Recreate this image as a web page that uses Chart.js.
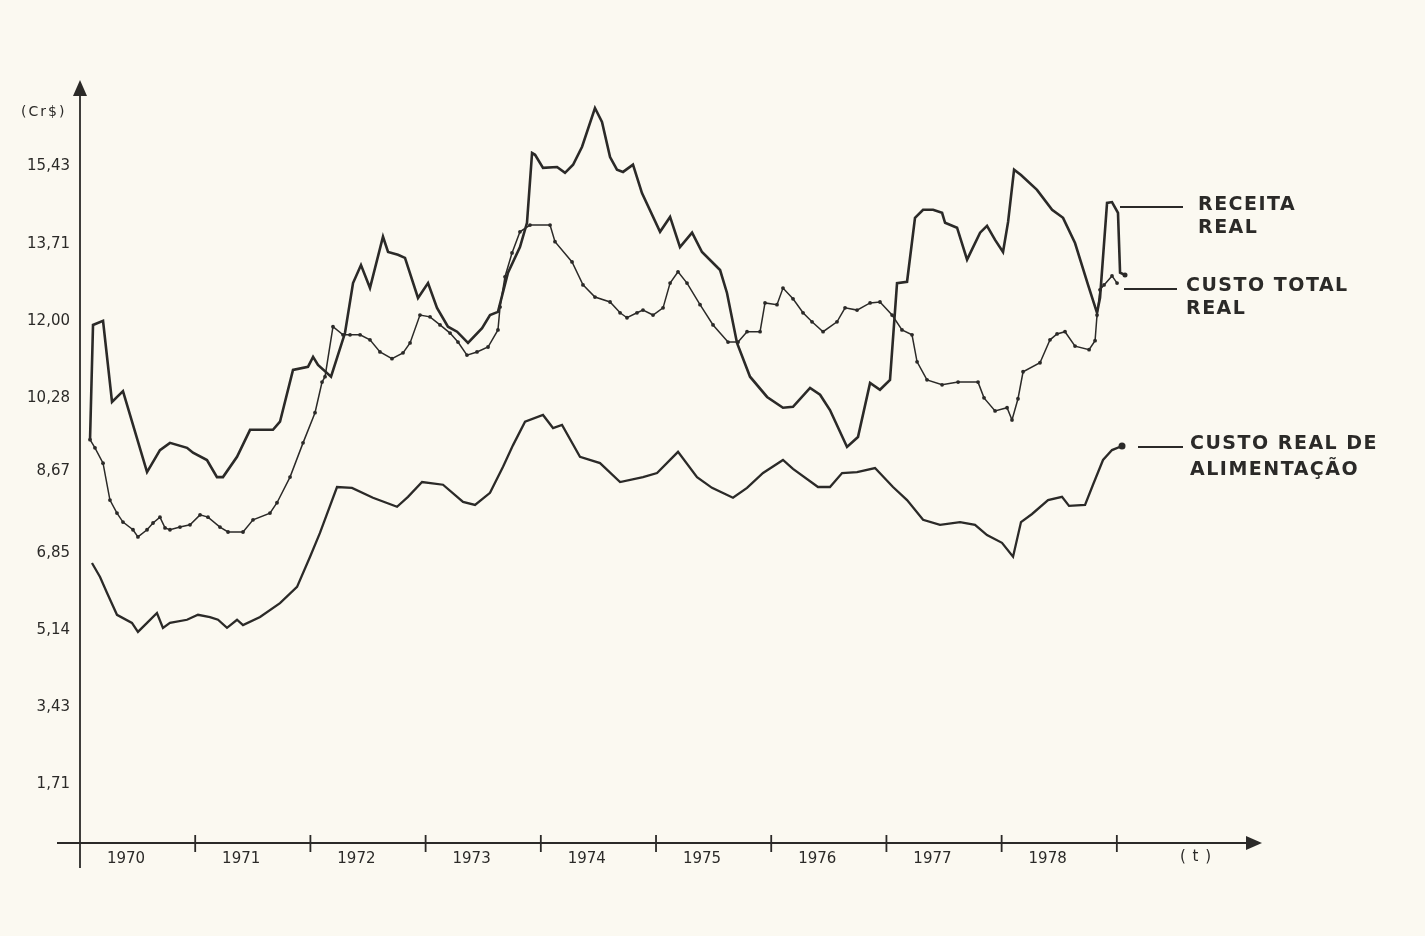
<!DOCTYPE html>
<html lang="pt">
<head>
<meta charset="utf-8">
<title>Receita real e custos reais, 1970-1978</title>
<script src="https://cdn.jsdelivr.net/npm/chart.js@4.4.1/dist/chart.umd.min.js"></script>
<style>
  html, body { margin: 0; padding: 0; background: #fbf9f1; }
  #wrap { width: 1425px; height: 936px; }
</style>
</head>
<body>
<div id="wrap"><canvas id="realChart" width="1425" height="936"></canvas></div>
<script>
const years = ["1970", "1971", "1972", "1973", "1974", "1975", "1976", "1977", "1978"];
const yearStarts = [1970, 1971, 1972, 1973, 1974, 1975, 1976, 1977, 1978];
const yTicks = [1.71, 3.43, 5.14, 6.85, 8.67, 10.28, 12.00, 13.71, 15.43];

const receitaT = [1970.087, 1970.113, 1970.200, 1970.278, 1970.373, 1970.582, 1970.694, 1970.781, 1970.929, 1970.981,
  1971.102, 1971.189, 1971.241, 1971.363, 1971.476, 1971.675, 1971.736, 1971.849, 1971.979, 1972.023,
  1972.066, 1972.179, 1972.300, 1972.370, 1972.439, 1972.517, 1972.630, 1972.674, 1972.760, 1972.821,
  1972.934, 1973.021, 1973.099, 1973.194, 1973.273, 1973.368, 1973.490, 1973.559, 1973.628, 1973.715,
  1973.819, 1973.880, 1973.924, 1973.950, 1974.019, 1974.141, 1974.210, 1974.280, 1974.358, 1974.470,
  1974.531, 1974.601, 1974.661, 1974.714, 1974.800, 1974.878, 1975.035, 1975.122, 1975.208, 1975.313,
  1975.399, 1975.556, 1975.616, 1975.703, 1975.816, 1975.964, 1976.102, 1976.189, 1976.337, 1976.424,
  1976.510, 1976.658, 1976.753, 1976.858, 1976.944, 1977.031, 1977.092, 1977.179, 1977.248, 1977.318,
  1977.405, 1977.483, 1977.509, 1977.613, 1977.700, 1977.813, 1977.873, 1977.943, 1978.012, 1978.056,
  1978.108, 1978.168, 1978.307, 1978.438, 1978.533, 1978.637, 1978.750, 1978.828, 1978.854, 1978.915,
  1978.958, 1979.010, 1979.028, 1979.071];
const receitaV = [9.36, 11.91, 12.00, 10.20, 10.44, 8.64, 9.13, 9.29, 9.18, 9.07,
  8.91, 8.53, 8.53, 8.98, 9.58, 9.58, 9.76, 10.91, 10.98, 11.20,
  11.02, 10.76, 11.73, 12.84, 13.24, 12.73, 13.87, 13.53, 13.47, 13.40,
  12.51, 12.84, 12.29, 11.87, 11.76, 11.51, 11.84, 12.13, 12.20, 13.07,
  13.64, 14.18, 15.73, 15.69, 15.40, 15.42, 15.29, 15.47, 15.87, 16.73,
  16.42, 15.64, 15.36, 15.31, 15.47, 14.84, 13.98, 14.31, 13.64, 13.96,
  13.53, 13.13, 12.62, 11.51, 10.76, 10.31, 10.07, 10.09, 10.51, 10.36,
  10.02, 9.20, 9.42, 10.62, 10.47, 10.69, 12.84, 12.87, 14.29, 14.47,
  14.47, 14.40, 14.18, 14.07, 13.36, 13.96, 14.11, 13.80, 13.53, 14.20,
  15.36, 15.24, 14.91, 14.47, 14.29, 13.73, 12.80, 12.18, 12.51, 14.62,
  14.64, 14.40, 13.07, 13.02];

const custoTotalT = [1970.087, 1970.130, 1970.200, 1970.260, 1970.321, 1970.373, 1970.460, 1970.503, 1970.582, 1970.634,
  1970.694, 1970.738, 1970.781, 1970.868, 1970.955, 1971.042, 1971.111, 1971.215, 1971.285, 1971.415,
  1971.502, 1971.649, 1971.710, 1971.823, 1971.936, 1972.040, 1972.101, 1972.127, 1972.196, 1972.283,
  1972.344, 1972.431, 1972.517, 1972.604, 1972.708, 1972.804, 1972.865, 1972.951, 1973.038, 1973.125,
  1973.212, 1973.281, 1973.359, 1973.446, 1973.542, 1973.628, 1973.646, 1973.689, 1973.750, 1973.819,
  1973.906, 1974.080, 1974.123, 1974.271, 1974.366, 1974.470, 1974.601, 1974.688, 1974.748, 1974.835,
  1974.887, 1974.974, 1975.061, 1975.122, 1975.191, 1975.269, 1975.382, 1975.495, 1975.625, 1975.712,
  1975.790, 1975.903, 1975.946, 1976.050, 1976.102, 1976.189, 1976.276, 1976.354, 1976.450, 1976.571,
  1976.641, 1976.745, 1976.858, 1976.944, 1977.049, 1977.135, 1977.222, 1977.266, 1977.352, 1977.483,
  1977.622, 1977.795, 1977.847, 1977.943, 1978.047, 1978.090, 1978.142, 1978.186, 1978.333, 1978.420,
  1978.481, 1978.550, 1978.637, 1978.759, 1978.811, 1978.828, 1978.854, 1978.889, 1978.958, 1979.002];
const custoTotalV = [9.36, 9.18, 8.84, 8.02, 7.73, 7.53, 7.36, 7.20, 7.36, 7.51,
  7.64, 7.40, 7.36, 7.42, 7.47, 7.69, 7.64, 7.42, 7.31, 7.31,
  7.58, 7.73, 7.96, 8.53, 9.29, 9.96, 10.64, 10.76, 11.87, 11.69,
  11.69, 11.69, 11.58, 11.31, 11.16, 11.29, 11.51, 12.13, 12.09, 11.91,
  11.73, 11.53, 11.24, 11.31, 11.42, 11.80, 12.31, 12.98, 13.51, 13.98,
  14.13, 14.13, 13.76, 13.31, 12.80, 12.53, 12.42, 12.18, 12.07, 12.18,
  12.24, 12.13, 12.29, 12.84, 13.09, 12.84, 12.36, 11.91, 11.53, 11.53,
  11.76, 11.76, 12.40, 12.36, 12.73, 12.49, 12.18, 11.98, 11.76, 11.98,
  12.29, 12.24, 12.40, 12.42, 12.13, 11.80, 11.69, 11.09, 10.69, 10.58,
  10.64, 10.64, 10.29, 10.00, 10.07, 9.80, 10.27, 10.87, 11.07, 11.58,
  11.71, 11.76, 11.44, 11.36, 11.56, 12.13, 12.69, 12.80, 13.00, 12.84];

const alimentacaoT = [1970.104, 1970.174, 1970.234, 1970.321, 1970.451, 1970.503, 1970.582, 1970.668, 1970.720, 1970.781,
  1970.929, 1971.024, 1971.128, 1971.198, 1971.276, 1971.363, 1971.415, 1971.563, 1971.736, 1971.884,
  1971.997, 1972.083, 1972.231, 1972.361, 1972.543, 1972.752, 1972.847, 1972.969, 1973.151, 1973.325,
  1973.429, 1973.559, 1973.672, 1973.759, 1973.863, 1974.019, 1974.106, 1974.184, 1974.340, 1974.514,
  1974.688, 1974.887, 1975.009, 1975.191, 1975.356, 1975.486, 1975.668, 1975.790, 1975.929, 1976.102,
  1976.189, 1976.406, 1976.510, 1976.615, 1976.745, 1976.901, 1977.057, 1977.179, 1977.318, 1977.465,
  1977.639, 1977.769, 1977.873, 1978.003, 1978.099, 1978.168, 1978.264, 1978.403, 1978.524, 1978.585,
  1978.724, 1978.793, 1978.880, 1978.958, 1979.045];
const alimentacaoV = [6.62, 6.31, 5.96, 5.47, 5.29, 5.09, 5.29, 5.51, 5.18, 5.29,
  5.36, 5.47, 5.42, 5.36, 5.18, 5.36, 5.24, 5.42, 5.73, 6.09,
  6.76, 7.29, 8.31, 8.29, 8.07, 7.87, 8.09, 8.42, 8.36, 7.98,
  7.91, 8.18, 8.76, 9.24, 9.76, 9.91, 9.62, 9.69, 8.98, 8.84,
  8.42, 8.53, 8.62, 9.09, 8.53, 8.29, 8.07, 8.29, 8.62, 8.91,
  8.71, 8.31, 8.31, 8.62, 8.64, 8.73, 8.31, 8.02, 7.58, 7.47,
  7.53, 7.47, 7.24, 7.07, 6.76, 7.53, 7.71, 8.02, 8.09, 7.89,
  7.91, 8.36, 8.91, 9.13, 9.22];

const ink = "#2b2a28";
const toPoints = (ts, vs) => ts.map((t, i) => ({ x: t, y: vs[i] }));
const lastDot = (arr, r) => ctx => (ctx.dataIndex === arr.length - 1 ? r : 0);

// axes with arrows, year marks and the hand-lettered labels
const paperAxes = {
  id: "paperAxes",
  afterDatasetsDraw(chart) {
    const { ctx, chartArea, scales: { x, y } } = chart;
    const x0 = x.getPixelForValue(1970);
    const y0 = chartArea.bottom;
    const top = chartArea.top;
    const right = chartArea.right;
    ctx.save();
    ctx.strokeStyle = ink;
    ctx.fillStyle = ink;
    ctx.lineWidth = 1.8;

    ctx.beginPath();
    ctx.moveTo(x0, y0 + 25);
    ctx.lineTo(x0, top + 10);
    ctx.moveTo(57, y0);
    ctx.lineTo(right - 10, y0);
    ctx.stroke();

    ctx.beginPath();
    ctx.moveTo(x0, top - 1);
    ctx.lineTo(x0 - 7, top + 15);
    ctx.lineTo(x0 + 7, top + 15);
    ctx.closePath();
    ctx.fill();

    ctx.beginPath();
    ctx.moveTo(right, y0);
    ctx.lineTo(right - 16, y0 - 7);
    ctx.lineTo(right - 16, y0 + 7);
    ctx.closePath();
    ctx.fill();

    ctx.beginPath();
    yearStarts.forEach(v => {
      const px = x.getPixelForValue(v + 1);
      ctx.moveTo(px, y0 - 8);
      ctx.lineTo(px, y0 + 9);
    });
    ctx.stroke();

    ctx.font = "14px 'DejaVu Sans'";
    ctx.letterSpacing = "2px";
    ctx.textBaseline = "middle";
    ctx.textAlign = "left";
    ctx.fillText("(Cr$)", 21, 112);
    ctx.font = "15px 'DejaVu Sans'";
    ctx.letterSpacing = "1px";
    ctx.fillText("( t )", 1180, 857);

    // series names with leader lines
    ctx.lineWidth = 2;
    ctx.beginPath();
    ctx.moveTo(1120, 207); ctx.lineTo(1183, 207);
    ctx.moveTo(1124, 289); ctx.lineTo(1177, 289);
    ctx.moveTo(1138, 447); ctx.lineTo(1183, 447);
    ctx.stroke();
    ctx.font = "bold 19px 'DejaVu Sans'";
    ctx.letterSpacing = "1.5px";
    ctx.fillText("RECEITA", 1198, 205);
    ctx.fillText("REAL", 1198, 228);
    ctx.fillText("CUSTO TOTAL", 1186, 286);
    ctx.fillText("REAL", 1186, 309);
    ctx.fillText("CUSTO REAL DE", 1190, 444);
    ctx.fillText("ALIMENTAÇÃO", 1190, 470);
    ctx.restore();
  }
};

new Chart(document.getElementById("realChart"), {
  type: "line",
  data: {
    datasets: [{
      label: "Receita real",
      data: toPoints(receitaT, receitaV),
      borderColor: ink,
      backgroundColor: ink,
      borderWidth: 2.6,
      pointRadius: lastDot(receitaV, 2.5),
      pointBorderWidth: 0,
      tension: 0
    }, {
      label: "Custo total real",
      data: toPoints(custoTotalT, custoTotalV),
      borderColor: ink,
      backgroundColor: ink,
      borderWidth: 1.5,
      pointRadius: 1.9,
      pointBorderWidth: 0,
      tension: 0
    }, {
      label: "Custo real de alimentação",
      data: toPoints(alimentacaoT, alimentacaoV),
      borderColor: ink,
      backgroundColor: ink,
      borderWidth: 2.3,
      pointRadius: lastDot(alimentacaoV, 3.5),
      pointBorderWidth: 0,
      tension: 0
    }]
  },
  options: {
    responsive: false,
    animation: false,
    devicePixelRatio: 1,
    layout: { padding: { top: 81, right: 163, bottom: 0, left: 0 } },
    plugins: {
      legend: { display: false },
      tooltip: { enabled: false }
    },
    scales: {
      x: {
        type: "linear",
        min: 1970,
        max: 1980.26,
        grid: { display: false, drawTicks: false },
        border: { display: false },
        afterBuildTicks: scale => { scale.ticks = yearStarts.map(v => ({ value: v })); },
        afterFit: scale => { scale.height = 93; },
        ticks: {
          callback: v => years[yearStarts.indexOf(v)],
          labelOffset: 46,
          padding: 7,
          maxRotation: 0,
          autoSkip: false,
          color: ink,
          font: { family: "'DejaVu Sans'", size: 15 }
        }
      },
      y: {
        min: 0.4,
        max: 17.33,
        grid: { display: false, drawTicks: false },
        border: { display: false },
        afterBuildTicks: scale => { scale.ticks = yTicks.map(v => ({ value: v })); },
        afterFit: scale => { scale.width = 80; },
        ticks: {
          callback: v => v.toFixed(2).replace(".", ","),
          padding: 10,
          color: ink,
          font: { family: "'DejaVu Sans'", size: 15 }
        }
      }
    }
  },
  plugins: [paperAxes]
});
</script>
</body>
</html>
